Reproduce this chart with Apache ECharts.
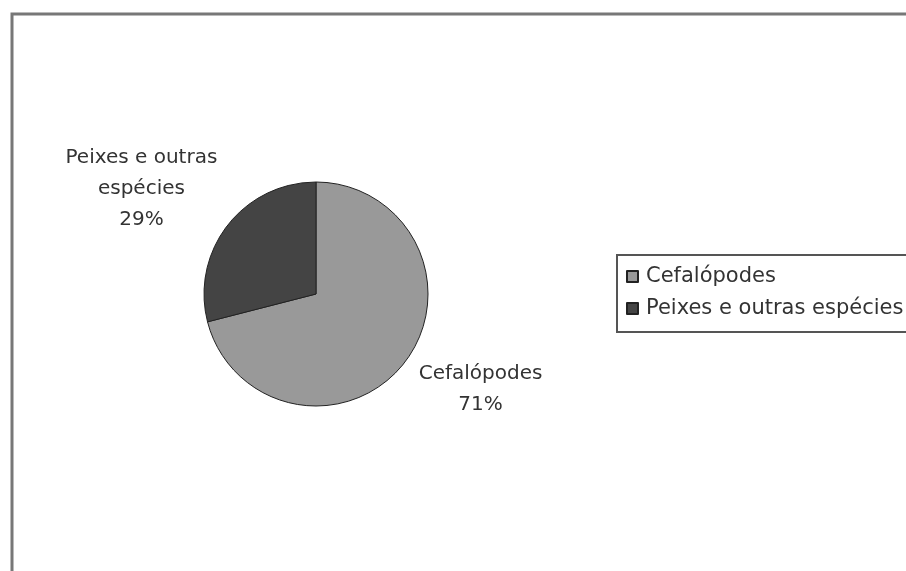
<!DOCTYPE html>
<html><head><meta charset="utf-8">
<script src="https://cdn.jsdelivr.net/npm/echarts@6/dist/echarts.min.js"></script>
<style>html,body{margin:0;padding:0;background:#fff}#c{width:906px;height:571px}</style>
</head><body><div id="c"></div>
<script>
const categories = ['Cefalópodes', 'Peixes e outras espécies'];
const labelNames = ['Cefalópodes', 'Peixes e outras\nespécies'];
const values = [71, 29];
const colors = ['#999999', '#444444'];

const chart = echarts.init(document.getElementById('c'), null, {renderer: 'canvas'});
const font = 'DejaVu Sans';
chart.setOption({
  backgroundColor: '#ffffff',
  animation: false,
  graphic: [{
    type: 'rect', silent: true,
    shape: {x: 12, y: 14, width: 1000, height: 700},
    style: {fill: 'none', stroke: '#777777', lineWidth: 3}
  }],
  legend: {
    orient: 'vertical',
    left: 617, top: 255,
    padding: [11, 40, 13, 9],
    borderColor: '#555', borderWidth: 2,
    itemWidth: 11, itemHeight: 11, itemGap: 11,
    icon: 'rect',
    textStyle: {fontFamily: font, fontSize: 21, color: '#333', padding: [0,0,0,3]},
    data: categories
  },
  series: [{
    type: 'pie',
    center: [316, 294],
    radius: 112,
    startAngle: 90,
    clockwise: true,
    data: categories.map((c, i) => ({name: c, value: values[i], itemStyle: {color: colors[i]}})),
    itemStyle: {borderColor: '#222', borderWidth: 1},
    label: {
      show: true, position: 'outside', alignTo: 'none', overflow: 'none',
      fontFamily: font, fontSize: 20, color: '#333', lineHeight: 31,
      formatter: p => labelNames[p.dataIndex] + '\n' + p.percent + '%'
    },
    labelLine: {show: false, length: 52, length2: 40},
    labelLayout: p => ({align: 'center', dy: -5, dx: p.dataIndex === 0 ? -10 : 0})
  }]
});
</script></body></html>
